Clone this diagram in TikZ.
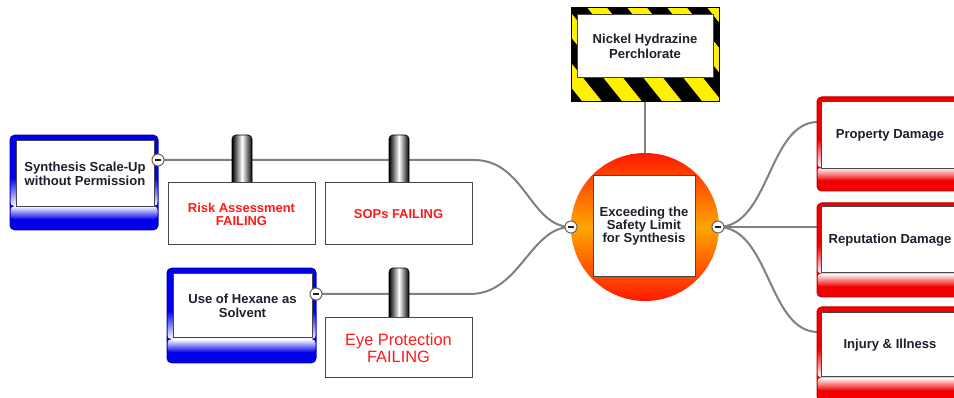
\documentclass[tikz,border=0pt]{standalone}
\usepackage{fontspec}
\setmainfont{Liberation Sans}
\usetikzlibrary{calc,backgrounds}

\definecolor{conngray}{RGB}{128,128,128}
\definecolor{boxline}{RGB}{70,70,70}
\definecolor{txt}{RGB}{30,30,45}
\definecolor{failred}{RGB}{255,25,25}
\definecolor{frblue}{RGB}{0,0,235}
\definecolor{frred}{RGB}{240,0,0}
\definecolor{haz}{RGB}{255,240,0}
\definecolor{hotred}{RGB}{255,25,0}
\definecolor{hotorange}{RGB}{255,165,0}

\tikzset{
  every node/.style={font=\bfseries\fontsize{9.8}{10.8}\selectfont, text=txt, align=center},
  conn/.style={draw=conngray, line width=1.5pt},
  frame/.style={rounded corners=3.5pt, draw=#1!80!black, line width=0.75pt,
    minimum width=111pt, minimum height=71pt, inner sep=0pt,
    path picture={
      \fill[#1] (path picture bounding box.north west) rectangle (path picture bounding box.south east);
      \shade[top color=#1, bottom color=white]
        ($(path picture bounding box.south west)!0.55!(path picture bounding box.north west)$) rectangle
        ($(path picture bounding box.south east)!0.25!(path picture bounding box.north east)$);
      \shade[top color=white, bottom color=#1]
        ($(path picture bounding box.south west)!0.25!(path picture bounding box.north west)$)
        rectangle ($(path picture bounding box.south east)!0.11!(path picture bounding box.north east)$);
    }},
  inner/.style={draw=boxline, fill=white, line width=0.75pt, inner sep=0pt},
  failbox/.style={inner, minimum width=110.25pt, minimum height=46.5pt, text=failred,
    font=\bfseries\fontsize{9.7}{9.7}\selectfont},
  barrier/.style={rounded corners=3pt, draw=black, line width=0.5pt,
    left color=black, right color=black, middle color=white,
    minimum width=15pt, minimum height=41.25pt, inner sep=0pt},
  minus/.style={circle, draw=conngray!80!black, fill=white, line width=0.75pt,
    minimum size=9pt, inner sep=0pt,
    path picture={\draw[line width=0.9pt, txt]
      ($(path picture bounding box.center)+(-2.6pt,0)$) --
      ($(path picture bounding box.center)+(2.6pt,0)$);}},
}

\begin{document}
\begin{tikzpicture}[x=0.75pt, y=-0.75pt]
\useasboundingbox (0,0) rectangle (954,398);
\clip (0,0) rectangle (954,398);

% causes on the left
\node[frame=frblue] (fb1) at (84,182.5) {};
\node[inner, minimum width=103.5pt, minimum height=49.5pt] (in1) at (85,174)
  {Synthesis Scale-Up\\without Permission};
\node[frame=frblue, minimum width=111.75pt] (fb2) at (241.5,315.5) {};
\node[inner, minimum width=104.25pt, minimum height=48pt] (in2) at (242.5,306)
  {Use of Hexane as\\Solvent};

% barriers with their failure boxes
\node[barrier] (b1) at (242,162.5) {};
\node[barrier] (b2) at (399,162.5) {};
\node[barrier, minimum height=42pt] (b3) at (399,296) {};
\node[failbox] (ra) at (241.5,214) {Risk Assessment\\FAILING};
\node[failbox] (sop) at (398.5,214) {SOPs FAILING};
\node[failbox, minimum height=45pt, font=\fontsize{12.3}{12.75}\selectfont] (ep) at (398.5,348)
  {Eye Protection\\FAILING};

% hazard sign: yellow board with black diagonal stripes (coordinates relative to the node centre)
\node[draw=black, line width=0.75pt, fill=haz, minimum width=111pt, minimum height=70.5pt,
  inner sep=0pt,
  path picture={
    \foreach \a in {-200,-160,...,100}
      \fill[black] (\a,-50) -- ++(20,0) -- ++(80,100) -- ++(-20,0) -- cycle;
  }] (hz) at (645,55) {};
\node[inner, minimum width=102pt, minimum height=47.25pt] (hzin) at (645,46.5)
  {Nickel Hydrazine\\Perchlorate};

% top event
\node[circle, minimum size=111pt, inner sep=0pt,
  top color=hotred, bottom color=hotred, middle color=hotorange] (ctr) at (645,227) {};
\node[inner, minimum width=76.5pt, minimum height=75.75pt,
  font=\bfseries\fontsize{9.8}{9.75}\selectfont] (ctrin) at (644,226.5)
  {Exceeding the\\Safety Limit\\for Synthesis};

% consequences on the right
\node[frame=frred, minimum height=70.5pt] (fr1) at (891,144) {};
\node[inner, minimum width=103.5pt, minimum height=50.25pt] (ir1) at (890,135.5) {Property Damage};
\node[frame=frred, minimum height=70.5pt] (fr2) at (891,250) {};
\node[inner, minimum width=103.5pt, minimum height=49.5pt] (ir2) at (890,240) {Reputation Damage};
\node[frame=frred, minimum height=70.5pt] (fr3) at (891,354) {};
\node[inner, minimum width=103.5pt, minimum height=48pt] (ir3) at (890,345) {Injury \& Illness};

% collapse markers
\node[minus] (m1) at (158,160) {};
\node[minus] (m2) at (316,294) {};
\node[minus] (mL) at (571,227) {};
\node[minus] (mR) at (718,227) {};

% connector bends and ends
\coordinate (j1) at (474,160);
\coordinate (j2) at (470,294);
\coordinate (e1) at (818,122);
\coordinate (e2) at (818,227);
\coordinate (e3) at (818,332);

\begin{pgfonlayer}{background}
  \fill[white] (0,0) rectangle (954,398);
  \draw[conn] (m1.center) -- (j1) .. controls (525,160) and (530,227) .. (mL.center);
  \draw[conn] (m2.center) -- (j2) .. controls (520,294) and (530,227) .. (mL.center);
  \draw[conn] (hz.south) -- (ctr.north);
  \draw[conn] (mR.center) .. controls (770,227) and (768,122) .. (e1);
  \draw[conn] (mR.center) -- (e2);
  \draw[conn] (mR.center) .. controls (770,227) and (768,332) .. (e3);
\end{pgfonlayer}
\end{tikzpicture}
\end{document}
